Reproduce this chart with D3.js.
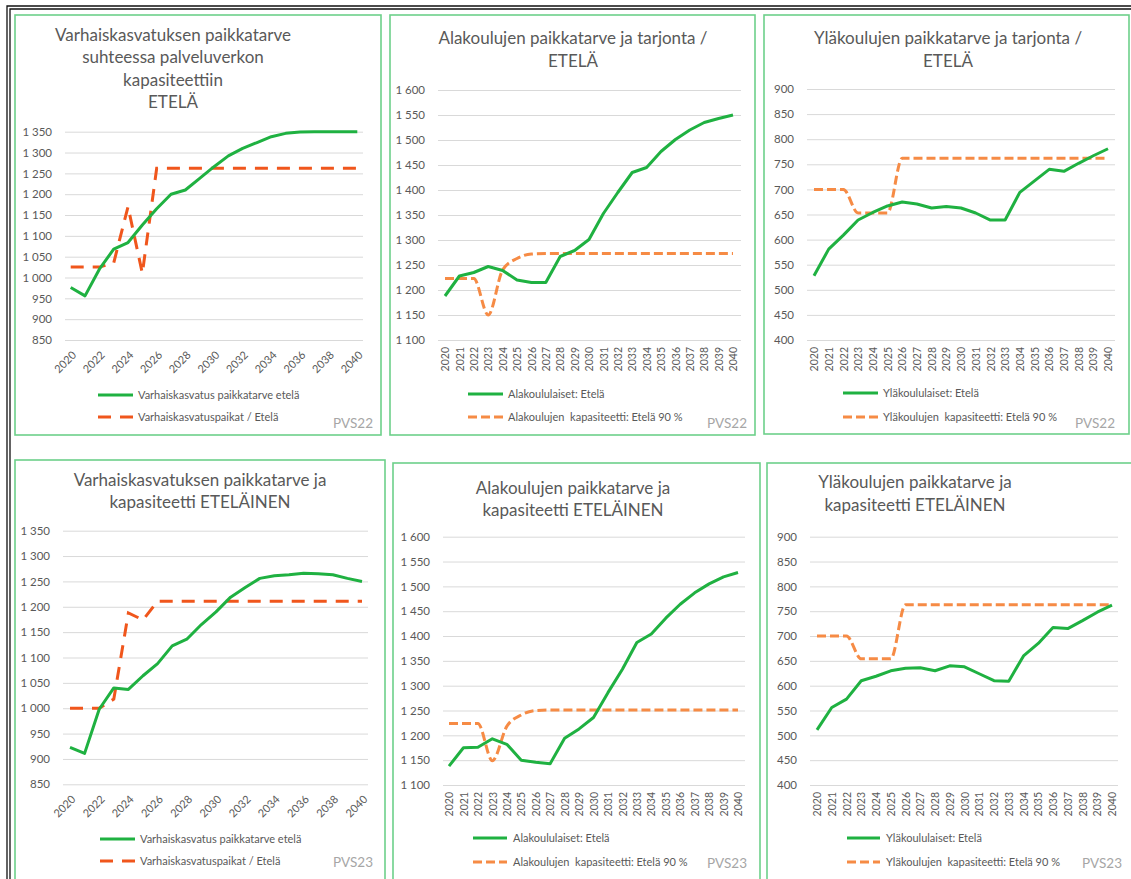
<!DOCTYPE html>
<html><head><meta charset="utf-8">
<script src="https://cdn.jsdelivr.net/npm/d3@7"></script>
<style>
body{margin:0;background:#fff}
svg{display:block}
text{font-family:Lato,"Open Sans","Noto Sans",sans-serif;white-space:pre}
</style>
</head><body>
<svg id="c" width="1131" height="879"></svg>
<script>
// ---------- DATA ----------
const years = ["2020","2021","2022","2023","2024","2025","2026","2027","2028","2029","2030",
               "2031","2032","2033","2034","2035","2036","2037","2038","2039","2040"];
const evenYears = ["2020","2022","2024","2026","2028","2030","2032","2034","2036","2038","2040"];

const ticksVarhais = [850,900,950,1000,1050,1100,1150,1200,1250,1300,1350];
const ticksAla     = [1100,1150,1200,1250,1300,1350,1400,1450,1500,1550,1600];
const ticksYla     = [400,450,500,550,600,650,700,750,800,850,900];

// PVS22
const varhais22Demand = [976,956,1020,1068,1084,1126,1165,1200,1210,1238,1266,1292,1310,1324,1338,1346,1349,1350,1350,1350,1350];
const varhais22Places = [1025,1025,1025,1035,1170,1010,1262,1262,1262,1262,1262,1262,1262,1262,1262,1262,1262,1262,1262,1262,1262];
const ala22Pupils     = [1188,1228,1235,1247,1239,1220,1215,1215,1267,1279,1301,1353,1395,1435,1445,1477,1501,1520,1535,1543,1550];
const ala22Capacity   = [1223,1223,1223,1150,1240,1263,1272,1273,1273,1273,1273,1273,1273,1273,1273,1273,1273,1273,1273,1273,1273];
const yla22Pupils     = [528,581,609,639,654,667,675,671,663,666,663,653,639,639,694,717,740,736,752,767,781];
const yla22Capacity   = [700,700,700,653,653,653,762,762,762,762,762,762,762,762,762,762,762,762,762,762,762];
// PVS23
const varhais23Demand = [923,911,998,1040,1037,1064,1088,1123,1136,1165,1190,1219,1238,1256,1261,1263,1266,1265,1263,1256,1250];
const varhais23Places = [1000,1000,1000,1018,1188,1174,1211,1211,1211,1211,1211,1211,1211,1211,1211,1211,1211,1211,1211,1211,1211];
const ala23Pupils     = [1138,1175,1176,1193,1182,1150,1146,1143,1194,1213,1236,1286,1333,1387,1404,1436,1464,1487,1505,1519,1528];
const ala23Capacity   = [1224,1224,1224,1149,1218,1241,1250,1251,1251,1251,1251,1251,1251,1251,1251,1251,1251,1251,1251,1251,1251];
const yla23Pupils     = [511,556,573,610,619,630,635,636,630,640,638,624,610,609,660,685,717,715,731,748,762];
const yla23Capacity   = [700,700,700,654,654,654,763,763,763,763,763,763,763,763,763,763,763,763,763,763,763];

// ---------- STYLE / LAYOUT ----------
const GREEN = "#1fb141", ORANGE_DARK = "#f0561c", ORANGE = "#f68b45";
const TXT = "#595959", GRID = "#d9d9d9", FRAME = "#6dd08a";
const loc = d3.formatLocale({decimal:",", thousands:"\u00a0", grouping:[3], currency:["","€"]});
const fmt = loc.format(",d");

const panels = [
 {frame:[15,15,381,435], title:["Varhaiskasvatuksen paikkatarve","suhteessa palveluverkon","kapasiteettiin","ETELÄ"],
  titleX:173, titleY:[41,63,86,108], gx:[65,363], px:[70.7,357.3], yTop:131.7, yBot:340, ticks:ticksVarhais,
  xTicks:evenYears, rot:45, s1:varhais22Demand, s2:varhais22Places, orange:ORANGE_DARK, dash:"13,9", smooth:false,
  leg:["Varhaiskasvatus paikkatarve etelä","Varhaiskasvatuspaikat / Etelä"], legX:[98,133,138], legY:[395,417],
  tag:"PVS22", tagX:373, tagY:428},
 {frame:[390,15,755,435], title:["Alakoulujen paikkatarve ja tarjonta /","ETELÄ"],
  titleX:573, titleY:[44,67], gx:[438,741], px:[445,733], yTop:90, yBot:340, ticks:ticksAla,
  xTicks:years, rot:90, s1:ala22Pupils, s2:ala22Capacity, orange:ORANGE, dash:"9,4", smooth:true,
  leg:["Alakoululaiset: Etelä","Alakoulujen  kapasiteetti: Etelä 90 %"], legX:[468,503,508], legY:[394,417],
  tag:"PVS22", tagX:747, tagY:428},
 {frame:[764,15,1129,434], title:["Yläkoulujen paikkatarve ja tarjonta /","ETELÄ"],
  titleX:948, titleY:[44,67], gx:[807,1115], px:[814,1108], yTop:89, yBot:340, ticks:ticksYla,
  xTicks:years, rot:90, s1:yla22Pupils, s2:yla22Capacity, orange:ORANGE, dash:"9,4", smooth:true,
  leg:["Yläkoululaiset: Etelä","Yläkoulujen  kapasiteetti: Etelä 90 %"], legX:[843,878,883], legY:[393,417],
  tag:"PVS22", tagX:1115, tagY:428},
 {frame:[15,460,385,882], title:["Varhaiskasvatuksen paikkatarve ja","kapasiteetti ETELÄINEN"],
  titleX:200, titleY:[486,508], gx:[63,368], px:[70,362], yTop:530.7, yBot:784.3, ticks:ticksVarhais,
  xTicks:evenYears, rot:45, s1:varhais23Demand, s2:varhais23Places, orange:ORANGE_DARK, dash:"13,9", smooth:false,
  leg:["Varhaiskasvatus paikkatarve etelä","Varhaiskasvatuspaikat / Etelä"], legX:[100,135,140], legY:[839,861],
  tag:"PVS23", tagX:373, tagY:867},
 {frame:[393,463,760,885], title:["Alakoulujen paikkatarve ja","kapasiteetti ETELÄINEN"],
  titleX:573, titleY:[494,516], gx:[443,745], px:[449,738], yTop:536.7, yBot:785, ticks:ticksAla,
  xTicks:years, rot:90, s1:ala23Pupils, s2:ala23Capacity, orange:ORANGE, dash:"9,4", smooth:true,
  leg:["Alakoululaiset: Etelä","Alakoulujen  kapasiteetti: Etelä 90 %"], legX:[473,507,513], legY:[838,862],
  tag:"PVS23", tagX:747, tagY:868},
 {frame:[767,463,1140,885], title:["Yläkoulujen paikkatarve ja","kapasiteetti ETELÄINEN"],
  titleX:915, titleY:[488,511], gx:[810,1118], px:[817,1112], yTop:536.7, yBot:785, ticks:ticksYla,
  xTicks:years, rot:90, s1:yla23Pupils, s2:yla23Capacity, orange:ORANGE, dash:"9,4", smooth:true,
  leg:["Yläkoululaiset: Etelä","Yläkoulujen  kapasiteetti: Etelä 90 %"], legX:[847,880,886], legY:[838,862],
  tag:"PVS23", tagX:1122, tagY:868}
];

const svg = d3.select("#c");

// outer black double border (top and left)
[[7,6],[10,9]].forEach(([bx,by])=>{
  svg.append("path").attr("d",`M${bx},879 L${bx},${by} L1131,${by}`)
     .attr("fill","none").attr("stroke","#111").attr("stroke-width",1.3);
});

function drawPanel(p){
  const g = svg.append("g");
  g.append("rect").attr("x",p.frame[0]).attr("y",p.frame[1])
    .attr("width",p.frame[2]-p.frame[0]).attr("height",p.frame[3]-p.frame[1])
    .attr("fill","#fff").attr("stroke",FRAME).attr("stroke-width",1.6);

  p.title.forEach((t,i)=>g.append("text").attr("x",p.titleX).attr("y",p.titleY[i])
    .attr("text-anchor","middle").attr("font-size",17).attr("fill",TXT).text(t));

  const x = d3.scalePoint().domain(years).range(p.px);
  const y = d3.scaleLinear().domain([p.ticks[0],p.ticks[p.ticks.length-1]]).range([p.yBot,p.yTop]);

  const ya = d3.axisLeft(y).tickValues(p.ticks).tickFormat(fmt)
      .tickSize(-(p.gx[1]-p.gx[0])).tickPadding(13);
  const yg = g.append("g").attr("transform",`translate(${p.gx[0]},0)`).call(ya);
  yg.select(".domain").remove();
  yg.selectAll(".tick line").attr("stroke",GRID).attr("stroke-width",1);
  yg.selectAll(".tick text").attr("fill",TXT).attr("font-size",11.5).attr("font-family","Lato");

  const xa = d3.axisBottom(x).tickValues(p.xTicks).tickSize(0);
  const xg = g.append("g").attr("transform",`translate(0,${p.yBot})`).call(xa);
  xg.select(".domain").remove();
  const xt = xg.selectAll(".tick text").attr("fill",TXT).attr("font-family","Lato")
      .attr("text-anchor","end").attr("x",0).attr("y",0).attr("dy","0.35em");
  if(p.rot===45) xt.attr("font-size",11).attr("transform","translate(3,13) rotate(-45)");
  else xt.attr("font-size",10.5).attr("transform","translate(0,7) rotate(-90)");

  const line1 = d3.line().x((d,i)=>x(years[i])).y(d=>y(d));
  const line2 = d3.line().x((d,i)=>x(years[i])).y(d=>y(d)).curve(p.smooth?d3.curveMonotoneX:d3.curveLinear);

  g.append("path").datum(p.s2).attr("d",line2).attr("fill","none")
    .attr("stroke",p.orange).attr("stroke-width",3).attr("stroke-dasharray",p.dash);
  g.append("path").datum(p.s1).attr("d",line1).attr("fill","none")
    .attr("stroke",GREEN).attr("stroke-width",3).attr("stroke-linejoin","round");

  // legend
  const items = [{c:GREEN,dash:null},{c:p.orange,dash:p.dash}];
  items.forEach((it,i)=>{
    const l = g.append("line").attr("x1",p.legX[0]).attr("x2",p.legX[1])
      .attr("y1",p.legY[i]).attr("y2",p.legY[i]).attr("stroke",it.c).attr("stroke-width",3);
    if(it.dash) l.attr("stroke-dasharray",p.dash);
    g.append("text").attr("x",p.legX[2]).attr("y",p.legY[i]).attr("dy","0.35em")
      .attr("font-size",11).attr("fill",TXT).text(p.leg[i]);
  });
  g.append("text").attr("x",p.tagX).attr("y",p.tagY).attr("text-anchor","end")
    .attr("font-size",13.5).attr("fill","#a6a6a6").text(p.tag);
}
panels.forEach(drawPanel);
</script>
</body></html>
